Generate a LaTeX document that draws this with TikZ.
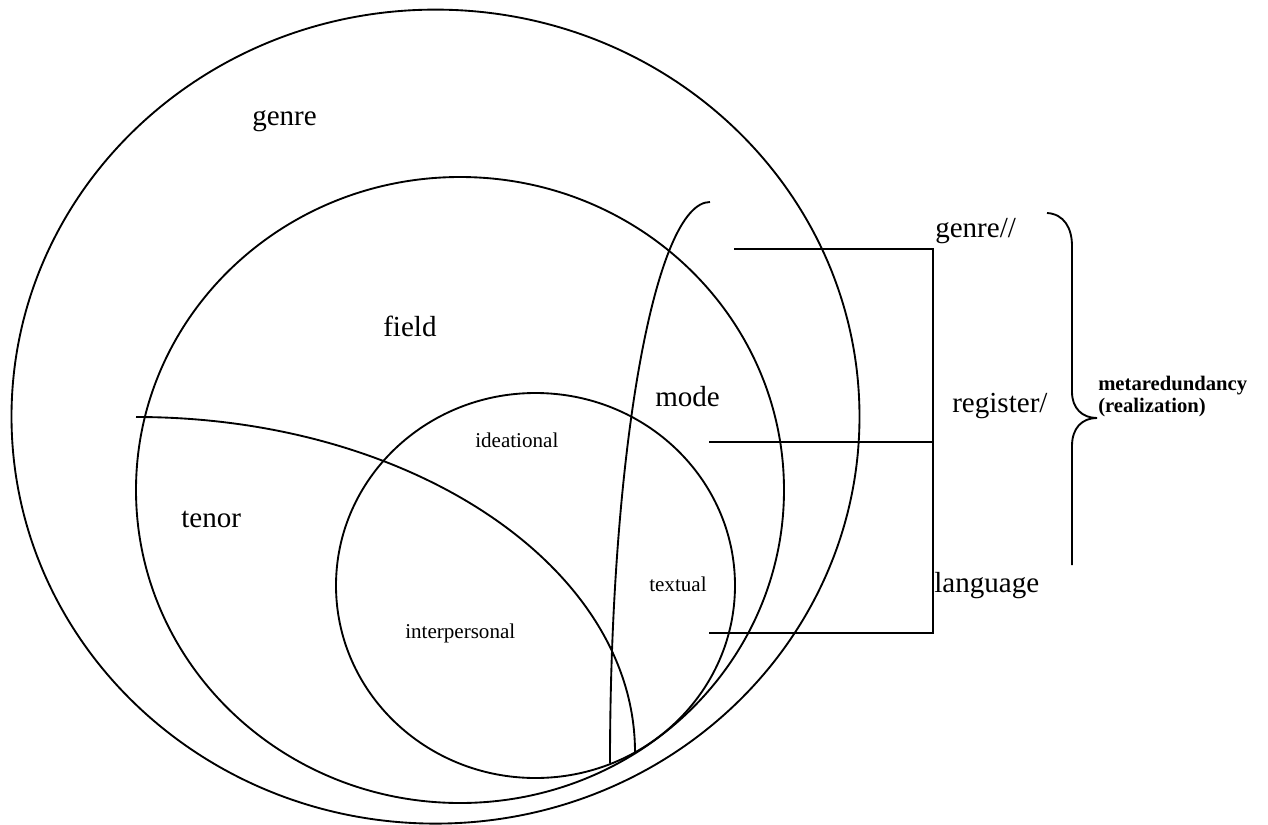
\documentclass[tikz,border=0pt]{standalone}
\usepackage{fontspec}
\setmainfont{Liberation Serif}
\begin{document}
\begin{tikzpicture}[x=0.75pt,y=-0.75pt,
  line/.style={draw=black,line width=1.4pt},
  big/.style={font=\fontsize{21.8pt}{24pt}\selectfont,inner sep=0pt,anchor=base west},
  small/.style={font=\fontsize{15.8pt}{18pt}\selectfont,inner sep=0pt,anchor=base west},
  note/.style={font=\bfseries\fontsize{15.5pt}{16pt}\selectfont,inner sep=0pt,anchor=base west,align=left}]
\useasboundingbox (0,0) rectangle (1268,825);

% nested circles: genre, field (register), language
\draw[line] (435.5,416.6) ellipse [x radius=424, y radius=407];
\draw[line] (460,490) ellipse [x radius=324, y radius=313];
\draw[line] (535.5,585.5) ellipse [x radius=199.5, y radius=192.5];

% tenor boundary
\coordinate (tenorA) at (136,417);
\coordinate (tenorB) at (635,752);
\draw[line] (tenorA) arc[start angle=-90, end angle=0, x radius=499, y radius=335];

% mode boundary
\coordinate (modeA) at (710,202);
\coordinate (modeB) at (610,763);
\draw[line] (modeA) arc[start angle=-90, end angle=-180, x radius=100, y radius=561];

% labels inside the circles
\node[big]   (genreIn) at (252,125) {genre};
\node[big]   (field)   at (383,336) {field};
\node[big]   (mode)    at (655,406) {mode};
\node[big]   (tenor)   at (181,527) {tenor};
\node[small] (idea)    at (475,447) {ideational};
\node[small] (inter)   at (405,638) {interpersonal};
\node[small] (text)    at (649,591) {textual};

% bracket joining the three strata
\coordinate (gL) at (734,249);
\coordinate (gR) at (933,249);
\coordinate (rL) at (709,442);
\coordinate (rR) at (933,442);
\coordinate (lL) at (709,633);
\coordinate (lR) at (933,633);
\draw[line] (gL) -- (gR) -- (lR) -- (lL);
\draw[line] (rL) -- (rR);

\node[big] (genreS)  at (935,237) {genre//};
\node[big] (regS)    at (952,412) {register/};
\node[big] (langS)   at (934,592) {language};

% brace
\coordinate (brTop) at (1047,213);
\coordinate (brTip) at (1097,418);
\coordinate (brEnd) at (1072,565);
\draw[line] (brTop) .. controls (1064,214) and (1072,228) .. (1072,246)
  -- (1072,392) .. controls (1072,408) and (1082,418) .. (brTip)
  .. controls (1082,418) and (1072,428) .. (1072,446) -- (brEnd);

\node[note] (meta) at (1098,412) {metaredundancy\\(realization)};
\end{tikzpicture}
\end{document}
